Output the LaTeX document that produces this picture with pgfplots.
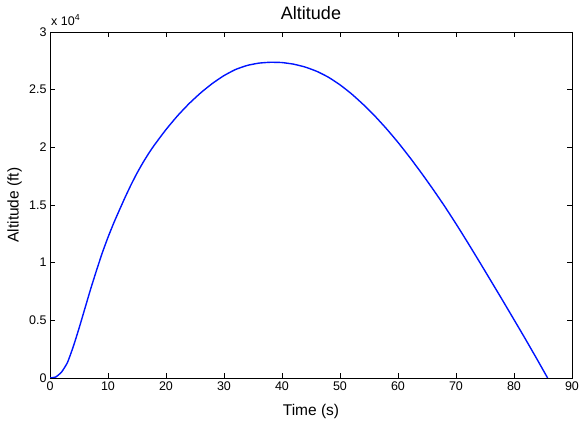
\documentclass[border=0pt]{standalone}
\usepackage{fontspec}
\setmainfont{Liberation Sans}
\usepackage{pgfplots}
\pgfplotsset{compat=1.18}
\begin{document}
\begin{tikzpicture}
\begin{axis}[
  at={(0pt,0pt)}, anchor=south west,
  scale only axis, width=522pt, height=346pt,
  xmin=0, xmax=90, ymin=0, ymax=30000,
  xtick={0,10,...,90},
  ytick={0,5000,10000,15000,20000,25000,30000},
  yticklabels={0,0.5,1,1.5,2,2.5,3},
  scaled y ticks=false,
  clip mode=individual,
  tick align=inside, tick pos=both,
  major tick length=5pt,
  /pgf/number format/assume math mode=true,
  tick label style={font=\fontsize{12.5}{12.5}\selectfont},
  title={Altitude},
  title style={font=\fontsize{18}{18}\selectfont, at={(axis description cs:0.5,1.0202)}, anchor=base},
  xlabel={Time (s)},
  xlabel style={font=\fontsize{15.5}{16}\selectfont, at={(axis description cs:0.5,-0.107)}, anchor=base},
  ylabel={Altitude (ft)},
  ylabel style={font=\fontsize{15.5}{16}\selectfont, at={(axis description cs:-0.0603,0.5)}, anchor=base},
  axis line style={line width=0.7pt},
  every tick/.style={line width=0.7pt, black},
]
\addplot[color={rgb,255:red,0;green,20;blue,255}, line width=1.4pt, smooth, tension=0.3] coordinates {
(0,0) (1,90) (2,520) (3,1330) (4,2700) (5,4300) (6,6000) (7,7700) (8,9300)
(9,10830) (10,12200) (11,13450) (12,14600) (13,15720) (14,16780) (15,17760)
(16,18650) (17,19460) (18,20200) (20,21540) (22,22740) (24,23800) (26,24730)
(28,25540) (30,26220) (32,26750) (34,27100) (36,27300) (38,27375) (40,27350)
(42,27210) (44,26960) (46,26590) (48,26080) (50,25420) (52,24630) (54,23720)
(56,22720) (58,21620) (60,20430) (62,19150) (64,17800) (66,16390) (68,14920)
(70,13370) (72,11760) (74,10110) (76,8440) (78,6760) (80,5060) (82,3350)
(84,1600) (85.8,0)
};
\node[anchor=base west, inner sep=0pt, font=\fontsize{12.5}{12.5}\selectfont] at (axis description cs:0.002,1.0202) {x 10\textsuperscript{4}};
\end{axis}
\pgfresetboundingbox
\useasboundingbox (-50pt,-44pt) rectangle (530pt,378pt);
\end{tikzpicture}
\end{document}
